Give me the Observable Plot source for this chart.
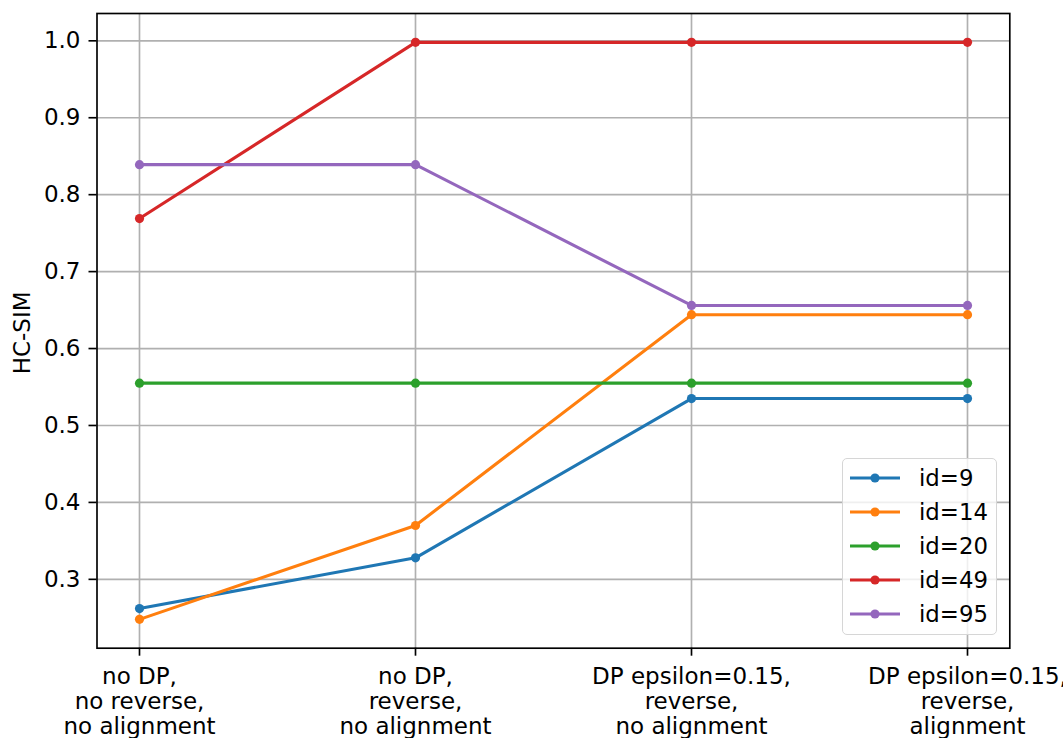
<!DOCTYPE html>
<html>
<head>
<meta charset="utf-8">
<script src="https://cdn.jsdelivr.net/npm/d3@7"></script>
<script src="https://cdn.jsdelivr.net/npm/@observablehq/plot@0.6"></script>
<style>
  html, body { margin: 0; padding: 0; background: #fff; }
  #wrap { position: relative; width: 1063px; height: 738px; overflow: hidden; }
  #legend {
    position: absolute; left: 842px; top: 458px; width: 153px; height: 175px;
    border: 1.6px solid #d6d6d6; border-radius: 5px; background: rgba(255,255,255,0.8);
    font-family: "DejaVu Sans", sans-serif; font-size: 22.8px; color: #000;
  }
</style>
</head>
<body>
<div id="wrap"><div id="legend"></div></div>
<script>
const categories = [
  "no DP,\nno reverse,\nno alignment",
  "no DP,\nreverse,\nno alignment",
  "DP epsilon=0.15,\nreverse,\nno alignment",
  "DP epsilon=0.15,\nreverse,\nalignment"
];
const seriesNames = ["id=9", "id=14", "id=20", "id=49", "id=95"];
const id9  = [0.262, 0.328, 0.535, 0.535];
const id14 = [0.248, 0.370, 0.644, 0.644];
const id20 = [0.555, 0.555, 0.555, 0.555];
const id49 = [0.769, 0.998, 0.998, 0.998];
const id95 = [0.839, 0.839, 0.656, 0.656];
const yTicks = [0.3, 0.4, 0.5, 0.6, 0.7, 0.8, 0.9, 1.0];
const colors = ["#1f77b4", "#ff7f0e", "#2ca02c", "#d62728", "#9467bd"];

const seriesValues = [id9, id14, id20, id49, id95];
const data = [];
seriesNames.forEach((s, i) => seriesValues[i].forEach((v, j) => data.push({series: s, cat: categories[j], value: v})));

const all = data.map(d => d.value);
const lo = d3.min(all), hi = d3.max(all), pad = (hi - lo) * 0.05;

const font = "DejaVu Sans, sans-serif";
const FS = 23;
const chart = Plot.plot({
  width: 1063,
  height: 738,
  marginLeft: 96.5,
  marginRight: 53.7,
  marginTop: 13,
  marginBottom: 90.3,
  style: {fontFamily: font, fontSize: FS + "px", background: "#fff", color: "#000", overflow: "visible"},
  x: {type: "point", domain: categories, padding: 0.15},
  y: {domain: [lo - pad, hi + pad]},
  color: {domain: seriesNames, range: colors},
  marks: [
    Plot.gridX({stroke: "#b0b0b0", strokeOpacity: 1, strokeWidth: 1.67}),
    Plot.gridY(yTicks, {stroke: "#b0b0b0", strokeOpacity: 1, strokeWidth: 1.67}),
    Plot.axisY(yTicks, {tickFormat: d3.format(".1f"), tickSize: 8, tickPadding: 8.5, strokeWidth: 1.67, fontSize: FS, label: null}),
    Plot.axisX({tickSize: 8, tickPadding: 9.7, strokeWidth: 1.67, fontSize: FS, lineHeight: 1.087, label: null}),
    Plot.line(data, {x: "cat", y: "value", z: "series", stroke: "series", strokeWidth: 3.1}),
    Plot.dot(data, {x: "cat", y: "value", fill: "series", r: 4.6}),
    Plot.frame({stroke: "#000", strokeWidth: 1.67}),
    Plot.text(["HC-SIM"], {frameAnchor: "left", dx: -74, dy: 2, rotate: -90, textAnchor: "middle", lineAnchor: "middle", fontSize: FS, fill: "#000"})
  ]
});
document.getElementById("wrap").insertBefore(chart, document.getElementById("legend"));

// legend
const leg = d3.select("#legend");
seriesNames.forEach((s, i) => {
  const row = leg.append("div")
    .style("position", "absolute").style("left", "0px")
    .style("top", (19.3 - 17 + i * 34) + "px")
    .style("height", "34px").style("width", "150px")
    .style("display", "flex").style("align-items", "center");
  const sv = row.append("svg").attr("width", 76).attr("height", 34).style("flex", "none");
  sv.append("line").attr("x1", 7).attr("x2", 57).attr("y1", 17).attr("y2", 17)
    .attr("stroke", colors[i]).attr("stroke-width", 3.1);
  sv.append("circle").attr("cx", 32).attr("cy", 17).attr("r", 4.6).attr("fill", colors[i]);
  row.append("span").text(s).style("line-height", "34px");
});
</script>
</body>
</html>
